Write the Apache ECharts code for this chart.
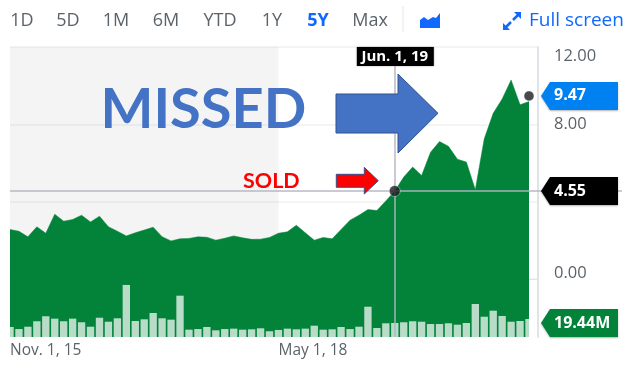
<!DOCTYPE html>
<html><head><meta charset="utf-8">
<style>html,body{margin:0;padding:0;background:#fff}#c{width:635px;height:370px}</style>
<script src="https://cdn.jsdelivr.net/npm/echarts@6/dist/echarts.min.js"></script>
</head><body><div id="c"></div>
<script>
var priceValues = [2.56,2.47,2.18,2.70,2.37,3.35,2.99,3.08,3.30,2.95,3.25,2.70,2.47,2.23,2.39,2.53,2.68,2.18,1.97,2.08,2.10,2.18,2.16,2.01,2.11,2.23,2.13,2.05,2.06,2.15,2.37,2.44,2.78,2.39,2.01,2.15,2.08,2.56,3.04,3.30,3.59,3.54,4.04,4.55,5.27,5.79,5.35,6.56,7.11,6.86,6.20,6.05,4.62,7.25,8.57,9.31,10.29,9.01,9.18];
var volumeValues = [10.8,8.6,11.1,17,22.4,19.8,17,19.8,15.9,11.1,20.8,16.5,20.2,56.2,17.3,19.1,25.9,20.2,18.7,44.6,7.9,8.6,10.8,7.2,8.6,9,7.9,8.3,9.4,6.2,7.6,9,8.3,9,12.2,7.9,8.3,10.8,8.6,11.1,32.7,9.7,14.8,15.1,15.9,17,16.5,14,14,14.8,13.3,15.1,35.6,21.9,28.4,22.7,16.5,17.3,19.44];
var monthNames = ['Jan.','Feb.','Mar.','Apr.','May','Jun.','Jul.','Aug.','Sep.','Oct.','Nov.','Dec.'];
var yTicks = [0,4,8,12];
var xTickLabels = ['Nov. 1, 15','May 1, 18'];
var rangeButtons = ['1D','5D','1M','6M','YTD','1Y','5Y','Max'];
var rangeCentres = [22,68,116,166,220,272,318,370];
var lastClose = 9.47, crossValue = 4.55, crossDate = 'Jun. 1, 19', lastVolume = '19.44M';

var categories = [];
for (var k = 0; k < 60; k++) {
  var m = (10 + k) % 12, y = 15 + Math.floor((10 + k) / 12);
  categories.push(monthNames[m] + ' 1, ' + y);
}
var F = '"Open Sans", sans-serif', GREY = '#5b636a', BLUE = '#0f69ff', GREEN = '#03833a';
var chart = echarts.init(document.getElementById('c'), null, {renderer:'canvas'});
var CROSS = 'rgba(180,180,195,0.7)';

chart.setOption({
  animation:false,
  grid:[
    {left:10, top:47, width:528, height:290},
    {left:10, top:47, width:519, height:290}
  ],
  xAxis:[
    {gridIndex:0, type:'category', data:categories, boundaryGap:false,
     axisLine:{show:true, lineStyle:{color:'#e2e2ea', width:1}}, axisTick:{show:false}, splitLine:{show:false},
     axisLabel:{show:true, align:'left', margin:6, color:GREY, fontFamily:F, fontSize:15.5,
       interval:function(i, v){ return xTickLabels.indexOf(v) >= 0; }}},
    {gridIndex:1, type:'category', data:categories.slice(0, 59), boundaryGap:false, show:false}
  ],
  yAxis:[
    {gridIndex:0, type:'value', position:'right', min:-3, max:12,
     axisLine:{show:true, onZero:false, lineStyle:{color:'#e2e2ea', width:2}},
     axisTick:{show:false, customValues:yTicks},
     splitLine:{show:true, lineStyle:{color:'#f0f0f2', width:1.5}},
     axisLabel:{show:true, customValues:yTicks, margin:16, color:GREY, fontFamily:F, fontSize:16.5,
       formatter:function(v){
         var t = v.toFixed(2);
         if (v === 4) return '';
         if (v === 12) return '{down|' + t + '}';
         if (v === 0) return '{up|' + t + '}';
         return t;
       },
       rich:{down:{padding:[18,0,0,0], color:GREY, fontFamily:F, fontSize:16.5},
             up:{padding:[0,0,12,0], color:GREY, fontFamily:F, fontSize:16.5}}}},
    {gridIndex:1, type:'value', min:-3, max:12, show:false},
    {gridIndex:1, type:'value', min:0, max:313, show:false}
  ],
  series:[
    {name:'band', type:'line', xAxisIndex:0, yAxisIndex:0, data:[], z:1, silent:true,
     markArea:{silent:true, itemStyle:{color:'rgba(0,0,0,0.043)'}, data:[[{xAxis:xTickLabels[0]},{xAxis:xTickLabels[1]}]]}},
    {name:'price', type:'line', xAxisIndex:1, yAxisIndex:1, data:priceValues, z:2, showSymbol:false, smooth:false,
     lineStyle:{width:0.5, color:GREEN}, itemStyle:{color:GREEN},
     areaStyle:{origin:'start', color:GREEN, opacity:1}},
    {name:'volume', type:'bar', xAxisIndex:1, yAxisIndex:2, data:volumeValues, z:3, barWidth:'82%',
     itemStyle:{color:'rgba(255,255,255,0.72)'}},
    {name:'cross', type:'line', xAxisIndex:0, yAxisIndex:0, data:[], z:4, silent:true,
     markLine:{silent:true, symbol:'none', label:{show:false}, animation:false,
       lineStyle:{color:CROSS, width:2, type:'solid'},
       data:[{xAxis:crossDate},{yAxis:crossValue}]}},
    {name:'dots', type:'scatter', xAxisIndex:1, yAxisIndex:1, z:5, symbol:'circle', clip:false,
     data:[{value:[43,crossValue],symbolSize:11},{value:[58,lastClose],symbolSize:10}],
     itemStyle:{color:'#1c1c20', borderColor:'rgba(255,255,255,0.5)', borderWidth:1}}
  ]
});

function tag(cy, fill, text){
  var tip = 541, l = 550, r = 618, h = 14;
  return [
    {type:'polygon', z:20, shape:{points:[[tip,cy],[l,cy-h],[r,cy-h],[r,cy+h],[l,cy+h]]},
     style:{fill:fill, shadowBlur:2, shadowColor:'rgba(0,0,0,0.3)', shadowOffsetY:1}},
    {type:'text', z:21, x:554, y:cy, style:{text:text, fill:'#fff', font:'bold 16px '+F, align:'left', verticalAlign:'middle'}}
  ];
}
var crossY = chart.convertToPixel({yAxisIndex:0}, crossValue);
var lastY = chart.convertToPixel({yAxisIndex:0}, lastClose);
var crossX = chart.convertToPixel({xAxisIndex:0}, crossDate);
var g = [];
rangeButtons.forEach(function(b, i){
  g.push({type:'text', x:rangeCentres[i], y:21, z:20, style:{text:b, fill:b==='5Y'?BLUE:GREY,
    font:(b==='5Y'?'bold ':'')+'18px '+F, align:'center', verticalAlign:'middle'}});
});
g.push({type:'line', z:20, shape:{x1:403,y1:6,x2:403,y2:32}, style:{stroke:'#e6e6e6', lineWidth:1}});
g.push({type:'polygon', z:20, shape:{points:[[420,28],[420,20],[424,17],[428,20],[433,17],[436,18],[440,13],[440,28]]}, style:{fill:BLUE}});
g.push({type:'polygon', z:20, shape:{points:[[503,30],[503,23],[510,30]]}, style:{fill:BLUE}});
g.push({type:'polygon', z:20, shape:{points:[[521,12],[514,12],[521,19]]}, style:{fill:BLUE}});
g.push({type:'line', z:20, shape:{x1:505,y1:28,x2:511,y2:22}, style:{stroke:BLUE, lineWidth:2.5}});
g.push({type:'line', z:20, shape:{x1:513,y1:20,x2:519,y2:14}, style:{stroke:BLUE, lineWidth:2.5}});
g.push({type:'text', z:20, x:529, y:21, style:{text:'Full screen', fill:BLUE, font:'19px '+F, align:'left', verticalAlign:'middle'}});
g.push({type:'line', z:6, shape:{x1:538,y1:crossY,x2:622,y2:crossY}, style:{stroke:CROSS, lineWidth:2}});
g = g.concat(tag(lastY, '#0081f2', lastClose.toFixed(2)));
g = g.concat(tag(crossY, '#000000', crossValue.toFixed(2)));
g = g.concat(tag(323, GREEN, lastVolume));
g.push({type:'rect', z:20, shape:{x:crossX-38, y:47, width:77, height:19}, style:{fill:'#000', shadowBlur:2, shadowColor:'rgba(0,0,0,0.3)'}});
g.push({type:'text', z:21, x:crossX, y:56.5, style:{text:crossDate, fill:'#fff', font:'bold 15px '+F, align:'center', verticalAlign:'middle'}});
g.push({type:'text', z:30, x:100.5, y:110, style:{text:'MISSED', fill:'#4472c4', font:'bold 56px Lato, sans-serif', align:'left', verticalAlign:'middle'}});
g.push({type:'text', z:30, x:243, y:181, style:{text:'SOLD', fill:'#ff0000', font:'bold 21.5px Lato, sans-serif', align:'left', verticalAlign:'middle'}});
g.push({type:'polygon', z:30, shape:{points:[[336,94],[398,94],[398,74],[438,113.3],[398,153],[398,133],[336,133]]}, style:{fill:'#4472c4', stroke:'#2f528f', lineWidth:1}});
g.push({type:'polygon', z:30, shape:{points:[[336.3,174.3],[364.3,174.3],[364.3,167.3],[378.3,180.7],[364.3,194],[364.3,187.3],[336.3,187.3]]}, style:{fill:'#ff0000', stroke:'#2f528f', lineWidth:1}});
chart.setOption({graphic:{elements:g}});
</script></body></html>
